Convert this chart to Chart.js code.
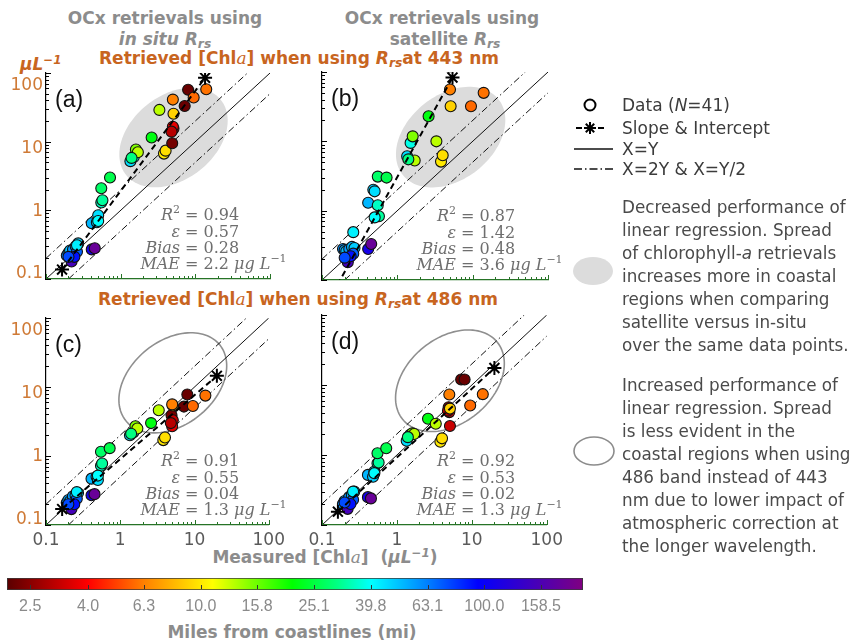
<!DOCTYPE html>
<html>
<head>
<meta charset="utf-8">
<title>OCx retrievals</title>
<script src="https://cdn.jsdelivr.net/npm/chart.js@4.4.1/dist/chart.umd.min.js"></script>
<style>
  body { margin:0; background:#fff; }
  #page { position:relative; width:858px; height:643px; overflow:hidden; font-family:"DejaVu Sans", sans-serif; }
  canvas { position:absolute; }
  .t { position:absolute; white-space:nowrap; line-height:1; }
  .c { transform:translate(-50%,-50%); }
  .m { transform:translateY(-50%); }
  .gray { color:#8c8c8c; font-weight:bold; font-size:17px; }
  .orange { color:#c8651f; font-weight:bold; font-size:17px; }
  sub { font-size:0.72em; vertical-align:-0.3em; line-height:0; }
  sup { font-size:0.7em; vertical-align:0.5em; line-height:0; }
  .sa { font-family:"DejaVu Serif", serif; font-style:italic; font-weight:normal; }
  .leg { color:#3c3c3c; font-size:17px; }
  .para { position:absolute; left:622px; color:#4a4a4a; font-size:16.8px; line-height:23px; white-space:nowrap; }
</style>
</head>
<body>
<div id="page">
  <div class="t c gray" style="left:165px;top:18px">OCx retrievals using</div>
  <div class="t c gray" style="left:165px;top:39px"><i>in situ R<sub>rs</sub></i></div>
  <div class="t c gray" style="left:442px;top:18px">OCx retrievals using</div>
  <div class="t c gray" style="left:445px;top:39px">satellite <i>R<sub>rs</sub></i></div>
  <div class="t c orange" style="left:299px;top:58px">Retrieved [Chl<span class="sa">a</span>] when using <i>R<sub>rs</sub></i>at 443 nm</div>
  <div class="t c orange" style="left:298px;top:299px">Retrieved [Chl<span class="sa">a</span>] when using <i>R<sub>rs</sub></i>at 486 nm</div>
  <div class="t m orange" style="left:20px;top:64px"><i>μL<sup>−1</sup></i></div>
  <div class="t c gray" style="left:325px;top:557px">Measured [Chl<span class="sa">a</span>]&nbsp; (<i>μL<sup>−1</sup></i>)</div>
  <div class="t c gray" style="left:292px;top:632px">Miles from coastlines (mi)</div>

  <canvas id="pa" width="290" height="240" style="left:0;top:63px"></canvas>
  <canvas id="pb" width="292" height="240" style="left:276px;top:62px"></canvas>
  <canvas id="pc" width="290" height="250" style="left:0;top:308px"></canvas>
  <canvas id="pd" width="292" height="253" style="left:276px;top:305px"></canvas>
  <canvas id="cb" width="600" height="50" style="left:0;top:568px"></canvas>

  <svg style="position:absolute;left:560px;top:90px" width="70" height="390">
    <circle cx="30" cy="15" r="5.5" fill="#fff" stroke="#000" stroke-width="2"/>
    <g stroke="#000" stroke-width="2">
      <line x1="16" y1="38" x2="22" y2="38"/><line x1="38" y1="38" x2="44" y2="38"/>
      <line x1="24" y1="38" x2="36" y2="38"/><line x1="30" y1="32" x2="30" y2="44"/>
      <line x1="25.8" y1="33.8" x2="34.2" y2="42.2"/><line x1="25.8" y1="42.2" x2="34.2" y2="33.8"/>
    </g>
    <line x1="14" y1="59" x2="53" y2="59" stroke="#111" stroke-width="1.3"/>
    <line x1="14" y1="79" x2="56" y2="79" stroke="#111" stroke-width="1.3" stroke-dasharray="8 3 1.5 3"/>
    <ellipse cx="33" cy="181" rx="20" ry="14" fill="#dcdcdc"/>
    <ellipse cx="34" cy="361" rx="20" ry="14" fill="none" stroke="#8c8c8c" stroke-width="1.6"/>
  </svg>
  <div class="t m leg" style="left:622px;top:105px">Data (<i>N</i>=41)</div>
  <div class="t m leg" style="left:622px;top:128px">Slope &amp; Intercept</div>
  <div class="t m leg" style="left:622px;top:149px">X=Y</div>
  <div class="t m leg" style="left:622px;top:169px">X=2Y &amp; X=Y/2</div>

  <div class="para" style="top:196px">Decreased performance of<br>linear regression. Spread<br>of chlorophyll-<i>a</i> retrievals<br>increases more in coastal<br>regions when comparing<br>satellite versus in-situ<br>over the same data points.</div>
  <div class="para" style="top:374px">Increased performance of<br>linear regression. Spread<br>is less evident in the<br>coastal regions when using<br>486 band instead of 443<br>nm due to lower impact of<br>atmospheric correction at<br>the longer wavelength.</div>
</div>

<script>
// measured chlorophyll (x), distance from coast (colour) - same 41 stations in every panel
var measured = [0.19, 0.20, 0.21, 0.22, 0.22, 0.23, 0.25, 0.27, 0.26, 0.24,
                0.41, 0.45, 0.41, 0.48, 0.50, 0.55, 0.57, 0.55, 0.72, 1.35,
                1.5, 1.6, 1.7, 2.6, 3.3, 3.8, 4.0, 4.9, 5.1, 5.0,
                4.8, 5.1, 5.0, 7.2, 8.0, 9.5, 14, 0.20, 0.26, 0.50, 1.4];
var distanceMi = [60, 55, 50, 110, 150, 58, 52, 48, 70, 90,
                  110, 190, 52, 48, 45, 35, 32, 28, 26, 45,
                  38, 15, 13, 22, 13, 10, 9.5, 2.3, 3.2, 3.6,
                  3.0, 9, 6.3, 2.2, 2.2, 5.8, 6, 75, 42, 40, 30];

// retrieved chlorophyll for each panel
var retrievedA = [0.22, 0.24, 0.26, 0.20, 0.18, 0.27, 0.30, 0.33, 0.25, 0.21,
                  0.27, 0.28, 0.65, 0.67, 0.85, 1.3, 1.4, 2.1, 3.0, 5.2,
                  6.0, 7.7, 7.0, 11.5, 29, 6.7, 7.4, 9.5, 15.5, 16.5,
                  14, 25.5, 41, 33, 57, 44, 58, 0.21, 0.31, 0.7, 5.8];
var retrievedB = [0.28, 0.27, 0.26, 0.20, 0.18, 0.28, 0.30, 0.29, 0.24, 0.22,
                  0.28, 0.33, 1.3, 2.0, 1.9, 1.2, 0.83, 3.1, 3.0, 6.1,
                  9.5, 11.8, 5.3, 23, 10, 5.1, 6.3, 150, 130, 140,
                  120, 32, 56, 160, 170, 32, 50, 0.21, 0.49, 0.8, 5.5];
var retrievedC = [0.21, 0.23, 0.22, 0.19, 0.17, 0.26, 0.27, 0.29, 0.24, 0.20,
                  0.27, 0.28, 0.47, 0.50, 0.45, 0.72, 0.78, 1.15, 1.3, 2.0,
                  2.2, 2.7, 2.5, 3.0, 4.6, 1.7, 1.85, 3.9, 3.3, 2.7,
                  3.0, 5.4, 5.6, 5.2, 7.8, 5.3, 7.5, 0.20, 0.30, 0.52, 2.1];
var retrievedD = [0.20, 0.22, 0.21, 0.19, 0.17, 0.25, 0.27, 0.30, 0.23, 0.20,
                  0.25, 0.24, 0.52, 0.49, 0.58, 0.76, 0.78, 1.06, 1.25, 1.6,
                  1.94, 2.04, 2.0, 3.3, 2.8, 1.55, 1.73, 4.8, 2.6, 4.1,
                  4.3, 4.6, 7.3, 12, 12, 5.1, 7.4, 0.21, 0.30, 0.55, 1.8];

// regression line end points (stars)
var slopeA = [[0.164, 0.137], [13.5, 85]];
var slopeB = [[0.16, 0.085], [5.4, 83]];
var slopeC = [[0.165, 0.17], [20, 14.5]];
var slopeD = [[0.163, 0.155], [20, 17.5]];

// R2, epsilon, bias, MAE
var statsA = ["0.94", "0.57", "0.28", "2.2"];
var statsB = ["0.87", "1.42", "0.48", "3.6"];
var statsC = ["0.91", "0.55", "0.04", "1.3"];
var statsD = ["0.92", "0.53", "0.02", "1.3"];

var axisTicks = [0.1, 1, 10, 100];
var lineOneToOne = [{x: 0.1, y: 0.1}, {x: 100, y: 100}];
var lineTwice = [{x: 0.1, y: 0.2}, {x: 50, y: 100}];
var lineHalf = [{x: 0.2, y: 0.1}, {x: 100, y: 50}];

// coastal spread ellipse: centre (data units), semi-axes in decades along the 1:1 diagonal
var spreadCentre = [5.1, 11.5];
var spreadAxes = [0.84, 0.59];

var colorTicks = [2.5, 4.0, 6.3, 10.0, 15.8, 25.1, 39.8, 63.1, 100.0, 158.5];
var colorRange = [2.07, 223];

var colorStops = [[2.07, [90, 0, 0]], [4.0, [255, 0, 0]], [6.3, [255, 128, 0]], [11, [255, 255, 0]],
                  [15, [128, 255, 0]], [21, [0, 255, 0]], [30, [0, 255, 128]], [40, [0, 255, 255]],
                  [63, [0, 128, 255]], [95, [0, 0, 255]], [223, [128, 0, 128]]];

function colorFor(mi) {
    var lv = Math.log10(mi);
    for (var i = 0; i < colorStops.length - 1; i++) {
        var l0 = Math.log10(colorStops[i][0]), l1 = Math.log10(colorStops[i + 1][0]);
        if (lv <= l1 || i === colorStops.length - 2) {
            var f = Math.min(1, Math.max(0, (lv - l0) / (l1 - l0)));
            var c0 = colorStops[i][1], c1 = colorStops[i + 1][1];
            return "rgb(" + c0.map(function (c, k) { return Math.round(c + (c1[k] - c) * f); }).join(",") + ")";
        }
    }
}

function drawSpread(chart, filled) {
    var ctx = chart.ctx, a = chart.chartArea, x = chart.scales.x, y = chart.scales.y;
    var lx = Math.log10(spreadCentre[0]), ly = Math.log10(spreadCentre[1]);
    ctx.save();
    ctx.beginPath();
    ctx.rect(a.left, a.top, a.right - a.left, a.bottom - a.top);
    ctx.clip();
    ctx.beginPath();
    for (var k = 0; k <= 120; k++) {
        var t = k / 120 * Math.PI * 2;
        var u = spreadAxes[0] * Math.cos(t), v = spreadAxes[1] * Math.sin(t);
        var px = x.getPixelForValue(Math.pow(10, lx + (u - v) / Math.SQRT2));
        var py = y.getPixelForValue(Math.pow(10, ly + (u + v) / Math.SQRT2));
        if (k === 0) ctx.moveTo(px, py); else ctx.lineTo(px, py);
    }
    ctx.closePath();
    if (filled) { ctx.fillStyle = "#dcdcdc"; ctx.fill(); }
    else { ctx.strokeStyle = "#8f8f8f"; ctx.lineWidth = 1.6; ctx.stroke(); }
    ctx.restore();
}

function drawLogTicks(chart) {
    var ctx = chart.ctx, a = chart.chartArea, x = chart.scales.x, y = chart.scales.y;
    ctx.save();
    ctx.lineWidth = 1;
    [0.1, 1, 10].forEach(function (dec) {
        for (var m = 1; m <= 10; m++) {
            var v = dec * m, len = (m === 1 || m === 10) ? 5 : 3;
            var px = Math.round(x.getPixelForValue(v)) + 0.5;
            ctx.strokeStyle = "#267326";
            ctx.beginPath(); ctx.moveTo(px, a.bottom); ctx.lineTo(px, a.bottom - len); ctx.stroke();
            var py = Math.round(y.getPixelForValue(v)) + 0.5;
            ctx.strokeStyle = "#000";
            ctx.beginPath(); ctx.moveTo(a.left, py); ctx.lineTo(a.left + len, py); ctx.stroke();
        }
    });
    ctx.restore();
}

function fontFor(s) {
    if (s === "i") return 'italic 16px "DejaVu Serif"';
    if (s === "sup") return '11px "DejaVu Serif"';
    return '16px "DejaVu Serif"';
}
function runsWidth(ctx, runs) {
    var w = 0;
    runs.forEach(function (r) { ctx.font = fontFor(r.s); w += ctx.measureText(r.t).width; });
    return w;
}
function drawRuns(ctx, runs, x, y) {
    runs.forEach(function (r) {
        ctx.font = fontFor(r.s);
        ctx.fillText(r.t, x, y + (r.s === "sup" ? -6 : 0));
        x += ctx.measureText(r.t).width;
    });
}

function drawStats(chart, st) {
    var ctx = chart.ctx, a = chart.chartArea;
    var ex = a.left + 139;
    var left = [[{t: "R", s: "i"}, {t: "2", s: "sup"}], [{t: "ε", s: "i"}], [{t: "Bias", s: "i"}], [{t: "MAE", s: "i"}]];
    var right = [[{t: "= " + st[0]}], [{t: "= " + st[1]}], [{t: "= " + st[2]}],
                 [{t: "= " + st[3] + " "}, {t: "μg L", s: "i"}, {t: "−1", s: "sup"}]];
    var rowsY = [63, 46, 30, 14];
    ctx.save();
    ctx.fillStyle = "#6e6e6e";
    ctx.textAlign = "left";
    ctx.textBaseline = "middle";
    for (var i = 0; i < 4; i++) {
        var yy = a.bottom - rowsY[i];
        drawRuns(ctx, left[i], ex - 5 - runsWidth(ctx, left[i]), yy);
        drawRuns(ctx, right[i], ex, yy);
    }
    ctx.restore();
}

function drawYLabels(chart) {
    var ctx = chart.ctx, a = chart.chartArea, y = chart.scales.y;
    ctx.save();
    ctx.font = '17px "DejaVu Sans"';
    ctx.fillStyle = "#cf7a36";
    ctx.textAlign = "right";
    ctx.textBaseline = "middle";
    axisTicks.forEach(function (v) {
        var p = y.getPixelForValue(v);
        ctx.fillText(String(v), a.left - 3, a.bottom - 5 - (a.bottom - p) * 0.915);
    });
    ctx.restore();
}

function makePanel(id, retrieved, slope, stats, opt) {
    var pts = measured.map(function (m, i) { return {x: m, y: retrieved[i]}; });
    return new Chart(document.getElementById(id), {
        type: "scatter",
        data: {
            datasets: [
                {
                    type: "line",
                    data: slope.map(function (p) { return {x: p[0], y: p[1]}; }),
                    borderColor: "#000",
                    borderWidth: 2,
                    borderDash: [6, 4],
                    pointStyle: "star",
                    pointRadius: opt.starRadius || 7,
                    pointBorderColor: "#000",
                    pointBorderWidth: 2,
                    fill: false,
                    clip: 0
                },
                {
                    data: pts,
                    pointRadius: 5.5,
                    pointBackgroundColor: distanceMi.map(colorFor),
                    pointBorderColor: "#111",
                    pointBorderWidth: 1.1,
                    clip: 0
                },
                {type: "line", data: lineOneToOne, borderColor: "#111", borderWidth: 1, pointRadius: 0, fill: false},
                {type: "line", data: lineTwice, borderColor: "#111", borderWidth: 1, borderDash: [7, 3, 1.5, 3], pointRadius: 0, fill: false},
                {type: "line", data: lineHalf, borderColor: "#111", borderWidth: 1, borderDash: [7, 3, 1.5, 3], pointRadius: 0, fill: false}
            ]
        },
        options: {
            responsive: false,
            animation: false,
            events: [],
            layout: {padding: {top: 10, right: 20, left: 0, bottom: 0}},
            plugins: {legend: {display: false}, tooltip: {enabled: false}},
            scales: {
                x: {
                    type: "logarithmic",
                    min: 0.1,
                    max: 100,
                    afterBuildTicks: function (s) { s.ticks = axisTicks.map(function (v) { return {value: v}; }); },
                    afterFit: function (s) { s.height = opt.xh; },
                    grid: {display: false, drawTicks: false},
                    border: {display: true, color: "#267326", width: 1.3},
                    ticks: {
                        display: opt.xLabels,
                        color: "#5a5a5a",
                        font: {family: "DejaVu Sans", size: 17},
                        padding: 5,
                        maxRotation: 0,
                        autoSkip: false,
                        callback: function (v) { return String(v); }
                    }
                },
                y: {
                    type: "logarithmic",
                    min: 0.1,
                    max: 100,
                    afterBuildTicks: function (s) { s.ticks = axisTicks.map(function (v) { return {value: v}; }); },
                    afterFit: function (s) { s.width = 46; },
                    grid: {display: false, drawTicks: false},
                    border: {display: true, color: "#000", width: 1.2},
                    ticks: {display: false}
                }
            }
        },
        plugins: [{
            id: "deco",
            beforeDatasetsDraw: function (c) { drawSpread(c, opt.filled); },
            afterDraw: function (c) {
                drawLogTicks(c);
                drawStats(c, stats);
                if (opt.yLabels) drawYLabels(c);
                var ctx = c.ctx;
                ctx.save();
                ctx.font = '23px "Liberation Sans"';
                ctx.fillStyle = "#111";
                ctx.textBaseline = "middle";
                ctx.fillText(opt.letter, c.chartArea.left + 9, c.chartArea.top + 28);
                ctx.restore();
            }
        }]
    });
}

makePanel("pa", retrievedA, slopeA, statsA, {letter: "(a)", filled: true, xLabels: false, yLabels: true, xh: 24});
makePanel("pb", retrievedB, slopeB, statsB, {letter: "(b)", filled: true, xLabels: false, yLabels: false, xh: 22, starRadius: [0, 7]});
makePanel("pc", retrievedC, slopeC, statsC, {letter: "(c)", filled: false, xLabels: true, yLabels: true, xh: 33});
makePanel("pd", retrievedD, slopeD, statsD, {letter: "(d)", filled: false, xLabels: true, yLabels: false, xh: 33});

// colour bar
function barGradient(chart) {
    var a = chart.chartArea, x = chart.scales.x;
    if (!a || !x) return "#888";
    var g = chart.ctx.createLinearGradient(a.left, 0, a.right, 0);
    colorStops.forEach(function (s) {
        var pos = (x.getPixelForValue(s[0]) - a.left) / (a.right - a.left);
        g.addColorStop(Math.min(1, Math.max(0, pos)), "rgb(" + s[1].join(",") + ")");
    });
    return g;
}

new Chart(document.getElementById("cb"), {
    type: "bar",
    data: {
        labels: ["mi"],
        datasets: [{
            data: [colorRange],
            backgroundColor: function (c) { return barGradient(c.chart); },
            borderColor: "#3a3a3a",
            borderWidth: 1.2,
            borderSkipped: false,
            barPercentage: 1,
            categoryPercentage: 1
        }]
    },
    options: {
        indexAxis: "y",
        responsive: false,
        animation: false,
        events: [],
        layout: {padding: {left: 7, right: 17, top: 10, bottom: 0}},
        plugins: {legend: {display: false}, tooltip: {enabled: false}},
        scales: {
            x: {
                type: "logarithmic",
                min: colorRange[0],
                max: colorRange[1],
                afterBuildTicks: function (s) { s.ticks = colorTicks.map(function (v) { return {value: v}; }); },
                afterFit: function (s) { s.height = 28; },
                grid: {display: false, drawTicks: false},
                border: {display: false},
                ticks: {
                    color: "#8a8a8a",
                    font: {family: "Liberation Sans", size: 16},
                    padding: 7,
                    autoSkip: false,
                    maxRotation: 0,
                    callback: function (v) { return Number(v).toFixed(1); }
                }
            },
            y: {display: false}
        }
    },
    plugins: [{
        id: "cbticks",
        afterDatasetsDraw: function (c) {
            var ctx = c.ctx, a = c.chartArea, x = c.scales.x;
            ctx.save();
            ctx.strokeStyle = "#333";
            ctx.lineWidth = 1;
            colorTicks.forEach(function (v) {
                var px = Math.round(x.getPixelForValue(v)) + 0.5;
                ctx.beginPath(); ctx.moveTo(px, a.bottom - 1); ctx.lineTo(px, a.bottom - 5); ctx.stroke();
            });
            ctx.restore();
        }
    }]
});
</script>
</body>
</html>
